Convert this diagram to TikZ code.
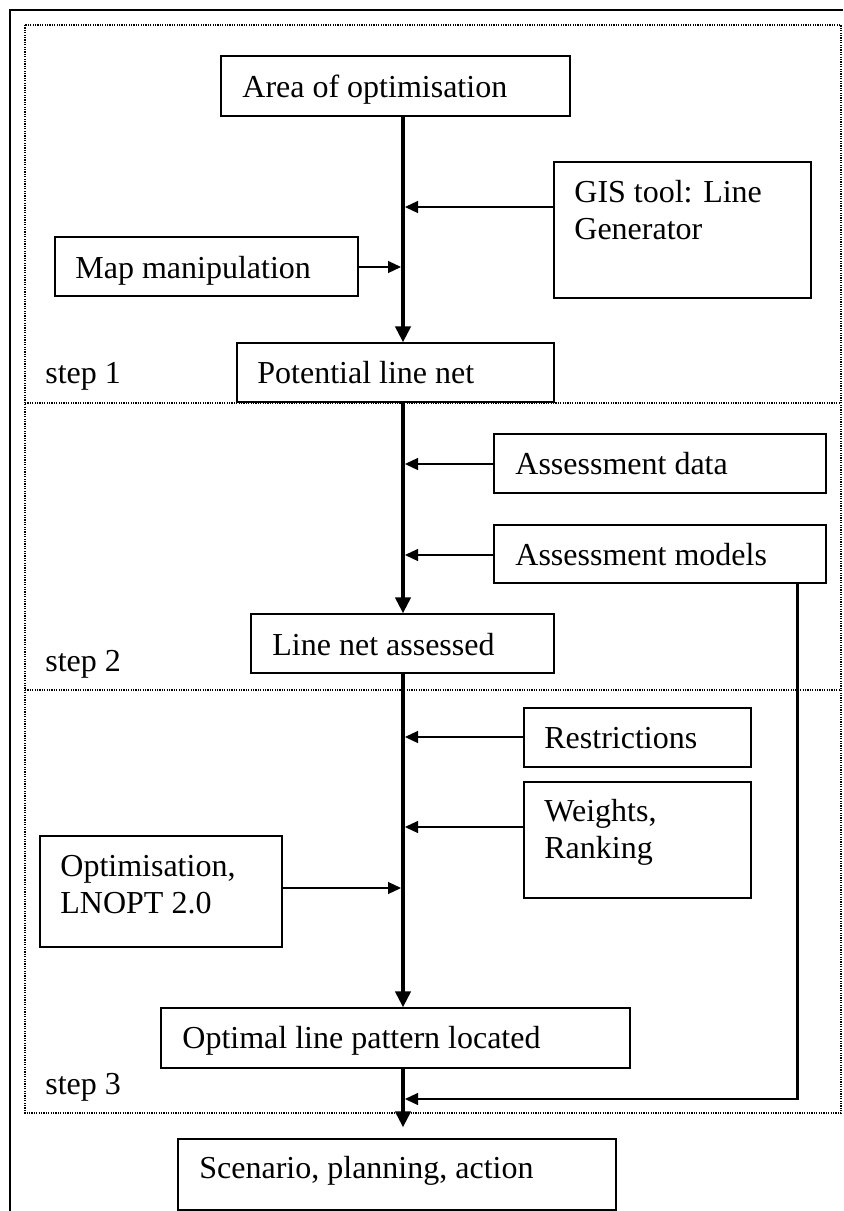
\documentclass[tikz,border=0pt]{standalone}
\usepackage{fontspec}
\setmainfont{Liberation Serif}
\usetikzlibrary{arrows.meta,calc,fit}
\begin{document}
\begin{tikzpicture}[x=0.5pt,y=-0.5pt,
  box/.style={draw=black, line width=0.6pt, inner sep=0pt, fill=white},
  txt/.style={anchor=base west, inner sep=0pt, font=\fontsize{16}{18.5}\selectfont},
  spinearrow/.style={line width=2pt, -{Triangle[length=8pt,width=7.5pt]}},
  harrow/.style={line width=0.6pt, shorten >=1pt, -{Triangle[length=6.5pt,width=6pt]}},
  dotline/.style={line width=0.9pt, dash pattern=on 0.6pt off 0.6pt},
]
\useasboundingbox (0,0) rectangle (843,1211);
\fill[white] (0,0) rectangle (843,1211);
% outer frame (cut off at right and bottom)
\draw[line width=1pt] (843,10) -- (10,10) -- (10,1211);
% dotted step frame
\draw[dotline] (25,25) rectangle (841,1113);
\draw[dotline] (25,403) -- (841,403);
\draw[dotline] (25,690) -- (841,690);
% spine reference
\coordinate (spinex) at (403,0);
% boxes
\node[box, fit={(221,56) (570,116)}] (area) {};
\node[box, fit={(554,162) (811,298)}] (gis) {};
\node[box, fit={(55,237) (358,296)}] (map) {};
\node[box, fit={(237,343) (554,402)}] (pot) {};
\node[box, fit={(494,434) (826,493)}] (adata) {};
\node[box, fit={(494,525) (826,583)}] (amod) {};
\node[box, fit={(251,614) (554,673)}] (lna) {};
\node[box, fit={(524,708) (751,767)}] (restr) {};
\node[box, fit={(524,782) (751,898)}] (weights) {};
\node[box, fit={(40,836) (282,947)}] (optim) {};
\node[box, fit={(161,1008) (630,1068)}] (optimal) {};
\node[box, fit={(178,1139) (616,1210)}] (scen) {};
% texts
\node[txt] (t-area) at (242,97) {Area of optimisation};
\node[txt] (t-gis1) at (574,202) {GIS tool: Line};
\node[txt] (t-gis2) at (574,239) {Generator};
\node[txt] (t-map) at (75,278) {Map manipulation};
\node[txt] (t-pot) at (257,383) {Potential line net};
\node[txt] (t-adata) at (515,474) {Assessment data};
\node[txt] (t-amod) at (515,565) {Assessment models};
\node[txt] (t-lna) at (272,655) {Line net assessed};
\node[txt] (t-restr) at (544,748) {Restrictions};
\node[txt] (t-w1) at (544,821) {Weights,};
\node[txt] (t-w2) at (544,858) {Ranking};
\node[txt] (t-o1) at (60,876) {Optimisation,};
\node[txt] (t-o2) at (60,913) {LNOPT 2.0};
\node[txt] (t-optimal) at (182,1048) {Optimal line pattern located};
\node[txt] (t-scen) at (199,1178) {Scenario, planning, action};
\node[txt] (step1) at (45,383) {step 1};
\node[txt] (step2) at (45,671) {step 2};
\node[txt] (step3) at (45,1094) {step 3};
% spine arrows
\draw[spinearrow] (area.south -| spinex) -- (pot.north -| spinex);
\draw[spinearrow] (pot.south -| spinex) -- (lna.north -| spinex);
\draw[spinearrow] (lna.south -| spinex) -- (optimal.north -| spinex);
\draw[spinearrow, shorten >=5.5pt] (optimal.south -| spinex) -- (scen.north -| spinex);
% side inputs
\coordinate (jg) at (403,207);
\coordinate (jm) at (403,267);
\coordinate (jd) at (403,464);
\coordinate (jmo) at (403,555);
\coordinate (jr) at (403,737);
\coordinate (jw) at (403,827);
\coordinate (jo) at (403,888);
\coordinate (jf) at (403,1099);
\coordinate (fb) at (797,1099);
\draw[harrow] (gis.west |- jg) -- (jg);
\draw[harrow] (map.east |- jm) -- (jm);
\draw[harrow] (adata.west |- jd) -- (jd);
\draw[harrow] (amod.west |- jmo) -- (jmo);
\draw[harrow] (restr.west |- jr) -- (jr);
\draw[harrow] (weights.west |- jw) -- (jw);
\draw[harrow] (optim.east |- jo) -- (jo);
% feedback from assessment models
\draw[line width=1.5pt] (amod.south -| fb) -- ([yshift=-0.3pt]fb);
\draw[harrow] (fb) -- (jf);
\end{tikzpicture}
\end{document}
